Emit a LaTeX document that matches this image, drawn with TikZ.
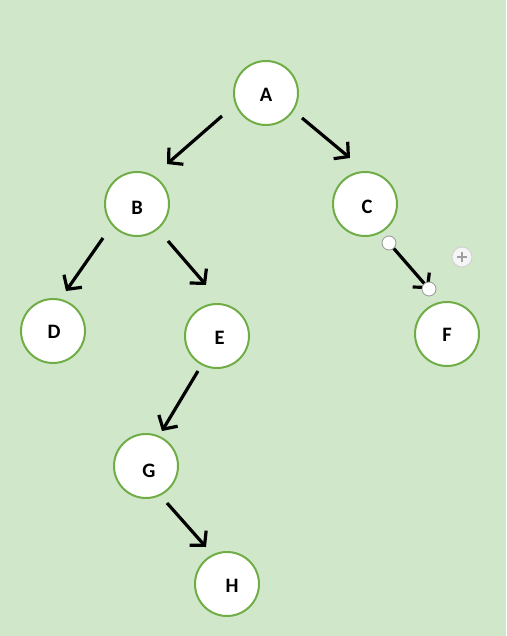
\documentclass[tikz,border=0pt]{standalone}
\usepackage{fontspec}
\setmainfont{Carlito}
\usetikzlibrary{arrows.meta}
\definecolor{bg}{RGB}{208,231,202}
\definecolor{ring}{RGB}{112,173,71}
\definecolor{handle}{RGB}{150,150,150}
% place a letter offset (dx right, dy down) from the circle centre
\newcommand\placeletter[3]{\makebox[0pt][c]{\hspace*{\dimexpr 2\dimexpr #1\relax\relax}\raisebox{\dimexpr -6.4pt - #2\relax}[0pt][0pt]{#3}}}
\tikzset{
  treenode/.style={circle,draw=ring,line width=2pt,fill=white,minimum size=64pt,inner sep=0pt,font=\fontsize{20.5}{20.5}\selectfont\bfseries},
  edge/.style={line width=3.2pt,-{Straight Barb[length=10pt,width=22pt,line width=3.2pt]}},
  grip/.style={circle,draw=handle,line width=0.8pt,fill=white,minimum size=14pt,inner sep=0pt},
}
\begin{document}
\begin{tikzpicture}[x=1pt,y=-1pt]
\fill[bg] (0,0) rectangle (506,636);
\useasboundingbox (0,0) rectangle (506,636);
\node[treenode] (A) at (266,93) {\placeletter{0pt}{2pt}{A}};
\node[treenode] (B) at (137,204) {\placeletter{0pt}{4pt}{B}};
\node[treenode] (C) at (365,204) {\placeletter{2pt}{3pt}{C}};
\node[treenode] (D) at (53,331) {\placeletter{1pt}{1.5pt}{D}};
\node[treenode] (E) at (217,336) {\placeletter{2.5pt}{2pt}{E}};
\node[treenode] (F) at (447,334) {\placeletter{0pt}{1pt}{F}};
\node[treenode] (G) at (146,466) {\placeletter{3pt}{5pt}{G}};
\node[treenode] (H) at (227,584) {\placeletter{5pt}{2pt}{H}};
% arrow end points
\coordinate (ab1) at (222,116); \coordinate (ab2) at (167,164);
\coordinate (ac1) at (302,118); \coordinate (ac2) at (350,158);
\coordinate (bd1) at (103,238); \coordinate (bd2) at (66,291);
\coordinate (be1) at (168,241); \coordinate (be2) at (206,285);
\coordinate (cf1) at (389,243); \coordinate (cf2) at (429,289);
\coordinate (eg1) at (198,371); \coordinate (eg2) at (162,431);
\coordinate (gh1) at (167,503); \coordinate (gh2) at (206,547);
\draw[edge] (ab1) -- (ab2);
\draw[edge] (ac1) -- (ac2);
\draw[edge] (bd1) -- (bd2);
\draw[edge] (be1) -- (be2);
\draw[edge] (cf1) -- (cf2);
\draw[edge] (eg1) -- (eg2);
\draw[edge] (gh1) -- (gh2);
\node[grip] (g1) at (cf1) {};
\node[grip] (g2) at (cf2) {};
\node[circle,draw=gray!35,line width=1pt,fill=gray!8,minimum size=20pt,inner sep=0pt] (plus) at (462,257) {};
\draw[gray!75,line width=2.4pt] ([xshift=-5pt]plus.center) -- ([xshift=5pt]plus.center);
\draw[gray!75,line width=2.4pt] ([yshift=-5pt]plus.center) -- ([yshift=5pt]plus.center);
\end{tikzpicture}
\end{document}
